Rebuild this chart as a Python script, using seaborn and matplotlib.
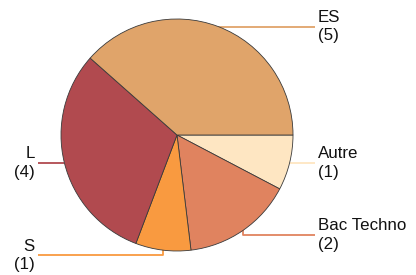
import numpy as np
import matplotlib
matplotlib.use("Agg")
import matplotlib.pyplot as plt
import seaborn as sns

categories = ["Autre", "Bac Techno", "S", "L", "ES"]
counts = [1, 2, 1, 4, 5]
colors = ["#FEE6C2", "#E0835F", "#F99A40", "#B14A4F", "#E0A46A"]
label_y_shift = [0.0, -0.04, -0.045, 0.0, 0.0]  # elbow offsets (radius units)

sns.set_theme(style="white")
plt.rcParams['font.family'] = ['Liberation Sans', 'DejaVu Sans']

W, H = 416, 275
cx, cy, R = 177, 135, 116
fig = plt.figure(figsize=(W / 100, H / 100), dpi=100)
ax = fig.add_axes([0, 0, 1, 1])

wedges, _ = ax.pie(counts, colors=colors, startangle=0, counterclock=False,
                   radius=1.0, center=(0, 0),
                   wedgeprops=dict(edgecolor="#3a3a3a", linewidth=0.6))
ax.set_xlim(-cx / R, (W - cx) / R)
ax.set_ylim(-(H - cy) / R, cy / R)
ax.set_aspect('equal')
ax.axis('off')

total = sum(counts)
x_right = (315 - cx) / R
x_left = (38 - cx) / R
start = 0.0
for cat, n, col, dy in zip(categories, counts, colors, label_y_shift):
    span = 360.0 * n / total
    mid = np.deg2rad(start - span / 2)
    start -= span
    ex, ey = np.cos(mid), np.sin(mid)
    ly = ey + dy
    if ex >= 0:
        xs = [ex, ex, x_right]
        tx, ha = x_right + 3 / R, 'left'
    else:
        xs = [ex, ex, x_left]
        tx, ha = x_left - 3 / R, 'right'
    ax.plot(xs, [ey, ly, ly], color=col, lw=1.3, solid_capstyle='butt', zorder=0)
    ax.text(tx, ly, f"{cat}\n({n})", ha=ha, va='center', fontsize=12.2,
            color="#111111", linespacing=1.3)

fig.savefig("out.png", dpi=100)
